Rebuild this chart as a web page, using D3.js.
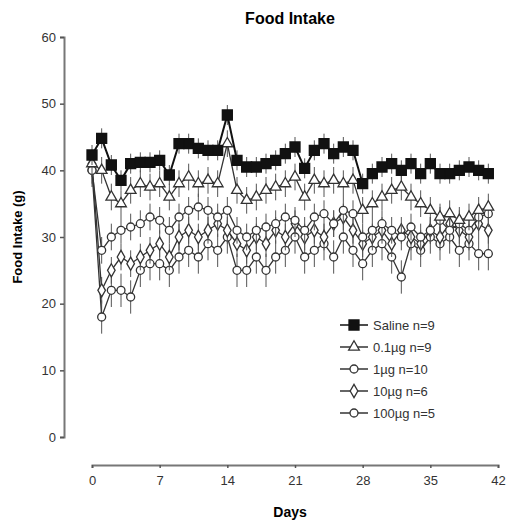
<!DOCTYPE html>
<html>
<head>
<meta charset="utf-8">
<script src="https://cdn.jsdelivr.net/npm/d3@7"></script>
<style>
  body { margin: 0; background: #fff; }
  text { font-family: "Liberation Sans", Arial, sans-serif; }
</style>
</head>
<body>
<svg id="chart" width="508" height="525"></svg>
<script>
// Data (g per day, days 0..41)
const days = d3.range(0, 42);
const saline = [42.3, 44.8, 40.8, 38.5, 41, 41.2, 41.2, 41.5, 39.3, 44, 44, 43.3, 43, 43, 48.3,
  41.5, 40.5, 40.5, 41, 41.5, 42.5, 43.5, 40.3, 43, 44, 42.5, 43.5, 43, 38, 39.5,
  40.5, 41, 40, 41, 39.5, 41, 39.5, 39.5, 40, 40.5, 40, 39.5];
const dose01 = [41, 40, 36, 35, 37, 38, 37.5, 38, 36, 38, 39, 38, 38.5, 38, 44,
  37, 35.5, 36, 37, 37.5, 38, 39, 36, 38.5, 38, 38.5, 38, 38.5, 34, 35,
  36, 37, 37.5, 36, 35, 34, 33, 33.5, 32.5, 33, 34, 34.5];
const dose1 = [40, 28, 30, 31, 31.5, 32, 33, 32.5, 31, 33, 34, 34.5, 34, 33, 34,
  31, 30, 31, 31.5, 32, 33, 32.5, 31, 33, 33.5, 32, 34, 33.5, 30, 31,
  32, 31, 30, 31.5, 30, 31, 32.5, 31, 32, 31, 33, 33.5];
const dose10 = [41, 22, 25, 27, 26, 27, 28, 29, 27, 30, 31, 30, 31, 32, 31,
  29, 28, 30, 29, 31, 30, 32, 30, 31, 30, 32, 33, 31, 29, 30,
  31, 29, 31, 30, 29, 31, 30, 32, 31, 30, 32, 31];
const dose100 = [40, 18, 22, 22, 21, 25, 26, 26, 25, 27, 28, 27, 29, 28, 30,
  25, 25, 27, 25, 27, 28, 30, 27, 28, 29, 27, 30, 28, 26, 28,
  29, 27, 24, 29, 28, 30, 29, 30, 28, 29, 27.5, 27.5];

const seriesNames = ["Saline n=9", "0.1\u00b5g n=9", "1\u00b5g n=10", "10\u00b5g n=6", "100\u00b5g n=5"];
const seriesValues = [saline, dose01, dose1, dose10, dose100];
const seriesShapes = ["square", "triangle", "circle", "diamond", "circle"];
const seriesSem = [1.5, 2, 2, 2, 2.5];

const yTicks = [0, 10, 20, 30, 40, 50, 60];
const xTicks = [0, 7, 14, 21, 28, 35, 42];

const svg = d3.select("#chart");

const x = d3.scaleLinear().domain([0, 42]).range([92, 498]);
const y = d3.scaleLinear().domain([0, 60]).range([437, 37]);

// Title and axis labels
svg.append("text").attr("x", 290).attr("y", 24)
  .attr("text-anchor", "middle").attr("font-size", 16).attr("font-weight", "bold")
  .text("Food Intake");
svg.append("text").attr("x", 290).attr("y", 517)
  .attr("text-anchor", "middle").attr("font-size", 14).attr("font-weight", "bold")
  .text("Days");
svg.append("text")
  .attr("transform", "translate(22,237) rotate(-90)")
  .attr("text-anchor", "middle").attr("font-size", 13).attr("font-weight", "bold")
  .text("Food Intake (g)");

// Axes
const yAxis = svg.append("g").attr("transform", "translate(64,0)")
  .call(d3.axisLeft(y).tickValues(yTicks).tickSize(4).tickPadding(4));
const xAxis = svg.append("g").attr("transform", "translate(0,465)")
  .call(d3.axisBottom(x).tickValues(xTicks).tickSize(3).tickPadding(8));
[yAxis, xAxis].forEach(a => {
  a.select(".domain").attr("stroke", "#777").attr("stroke-width", 2);
  a.selectAll(".tick line").attr("stroke", "#555").attr("stroke-width", 1.5);
  a.selectAll(".tick text").attr("font-size", 13).attr("fill", "#333")
    .attr("font-family", "Liberation Sans, Arial, sans-serif");
});

const symbolType = {
  square: d3.symbolSquare, triangle: d3.symbolTriangle,
  circle: d3.symbolCircle, diamond: d3.symbolDiamond
};
const line = d3.line().x((d, i) => x(days[i])).y(d => y(d));

// draw lowest series first, saline last
const order = [4, 3, 2, 1, 0];
order.forEach(s => {
  const vals = seriesValues[s];
  const g = svg.append("g");
  const filled = s === 0;
  const col = filled ? "#111" : "#333";

  // error bars
  g.selectAll("line.err").data(vals).join("line")
    .attr("x1", (d, i) => x(days[i])).attr("x2", (d, i) => x(days[i]))
    .attr("y1", d => y(d - seriesSem[s])).attr("y2", d => y(d + seriesSem[s]))
    .attr("stroke", "#555").attr("stroke-width", 1);

  g.append("path").datum(vals).attr("d", line)
    .attr("fill", "none").attr("stroke", col).attr("stroke-width", filled ? 2 : 1.3);

  const size = filled ? 100 : 50;
  g.selectAll("path.pt").data(vals).join("path")
    .attr("class", "pt")
    .attr("transform", (d, i) => `translate(${x(days[i])},${y(d)})`)
    .attr("d", d3.symbol().type(symbolType[seriesShapes[s]]).size(size))
    .attr("fill", filled ? "#111" : "#fff")
    .attr("stroke", col).attr("stroke-width", 1.3);
});

// Legend
const legend = svg.append("g");
seriesNames.forEach((name, s) => {
  const ly = 325 + s * 22;
  const col = s === 0 ? "#111" : "#333";
  legend.append("line").attr("x1", 340).attr("x2", 368).attr("y1", ly).attr("y2", ly)
    .attr("stroke", col).attr("stroke-width", 1.5);
  legend.append("path")
    .attr("transform", `translate(354,${ly})`)
    .attr("d", d3.symbol().type(symbolType[seriesShapes[s]]).size(s === 0 ? 100 : 50))
    .attr("fill", s === 0 ? "#111" : "#fff").attr("stroke", col).attr("stroke-width", 1.3);
  legend.append("text").attr("x", 373).attr("y", ly + 5)
    .attr("font-size", 13).attr("fill", "#333").text(name);
});
</script>
</body>
</html>
